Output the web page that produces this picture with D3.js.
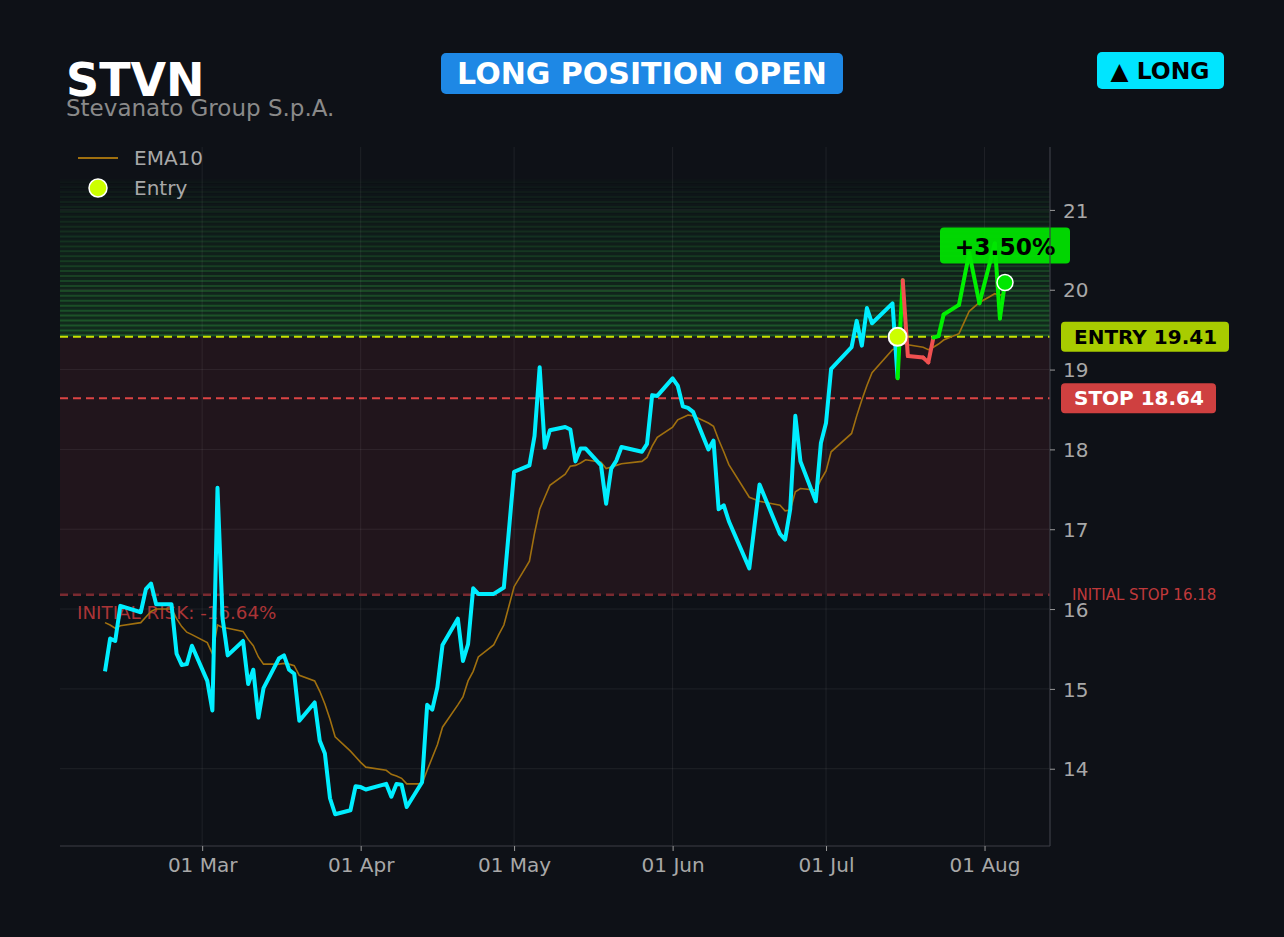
<!DOCTYPE html>
<meta charset="utf-8">
<style>
body { margin: 0; background: #0e1117; }
text { font-family: "DejaVu Sans", sans-serif; }
.axis .domain { display: none; }
.axis text { fill: #a8a8a8; font-size: 20px; }
.axis line { stroke: #9a9a9a; }
</style>
<svg width="1284" height="937"></svg>
<script src="https://cdn.jsdelivr.net/npm/d3@7/dist/d3.min.js"></script>
<script>

// daily closes (2026 trading days)
var dates = [
  "2026-02-10","2026-02-11","2026-02-12","2026-02-13","2026-02-17","2026-02-18","2026-02-19","2026-02-20",
  "2026-02-23","2026-02-24","2026-02-25","2026-02-26","2026-02-27",
  "2026-03-02","2026-03-03","2026-03-04","2026-03-05","2026-03-06",
  "2026-03-09","2026-03-10","2026-03-11","2026-03-12","2026-03-13",
  "2026-03-16","2026-03-17","2026-03-18","2026-03-19","2026-03-20",
  "2026-03-23","2026-03-24","2026-03-25","2026-03-26","2026-03-27",
  "2026-03-30","2026-03-31","2026-04-01","2026-04-02",
  "2026-04-06","2026-04-07","2026-04-08","2026-04-09","2026-04-10",
  "2026-04-13","2026-04-14","2026-04-15","2026-04-16","2026-04-17",
  "2026-04-20","2026-04-21","2026-04-22","2026-04-23","2026-04-24",
  "2026-04-27","2026-04-28","2026-04-29","2026-05-01",
  "2026-05-04","2026-05-05","2026-05-06","2026-05-07","2026-05-08",
  "2026-05-11","2026-05-12","2026-05-13","2026-05-14","2026-05-15",
  "2026-05-18","2026-05-19","2026-05-20","2026-05-21","2026-05-22",
  "2026-05-26","2026-05-27","2026-05-28","2026-05-29",
  "2026-06-01","2026-06-02","2026-06-03","2026-06-04","2026-06-05",
  "2026-06-08","2026-06-09","2026-06-10","2026-06-11","2026-06-12",
  "2026-06-16","2026-06-18",
  "2026-06-22","2026-06-23","2026-06-24","2026-06-25","2026-06-26",
  "2026-06-29","2026-06-30","2026-07-01","2026-07-02",
  "2026-07-06","2026-07-07","2026-07-08","2026-07-09","2026-07-10",
  "2026-07-14","2026-07-15","2026-07-16","2026-07-17",
  "2026-07-20","2026-07-21","2026-07-22","2026-07-23","2026-07-24",
  "2026-07-27","2026-07-29","2026-07-31",
  "2026-08-03","2026-08-04","2026-08-05"
];

var closes = [
  15.22,15.63,15.60,16.04,15.96,16.25,16.32,16.06,
  16.06,15.44,15.30,15.31,15.54,
  15.10,14.73,17.52,15.88,15.42,
  15.60,15.06,15.24,14.64,15.01,
  15.38,15.42,15.24,15.19,14.60,
  14.83,14.35,14.19,13.63,13.43,
  13.48,13.78,13.77,13.74,
  13.81,13.65,13.81,13.80,13.52,
  13.83,14.80,14.74,15.02,15.55,
  15.88,15.35,15.56,16.26,16.19,
  16.19,16.23,16.27,17.72,
  17.80,18.17,19.03,18.02,18.24,
  18.28,18.25,17.85,18.01,18.01,
  17.80,17.32,17.76,17.86,18.03,
  17.97,18.07,18.68,18.67,
  18.89,18.80,18.54,18.52,18.47,
  18.00,18.11,17.25,17.30,17.10,
  16.51,17.56,
  16.94,16.87,17.25,18.42,17.85,
  17.35,18.08,18.33,19.01,
  19.28,19.61,19.30,19.77,19.58,
  19.83,18.89,20.12,19.17,
  19.15,19.09,19.40,19.42,19.69,
  19.81,20.46,19.83,
  20.58,19.64,20.09
];

var ema10 = [
  15.83,15.80,15.76,15.79,15.83,15.90,15.97,16.00,
  16.00,15.88,15.78,15.71,15.68,
  15.58,15.44,15.80,15.77,15.76,
  15.72,15.62,15.54,15.40,15.31,
  15.31,15.32,15.31,15.29,15.17,
  15.10,14.97,14.81,14.62,14.40,
  14.22,14.15,14.08,14.02,
  13.98,13.93,13.91,13.88,13.81,
  13.81,13.98,14.14,14.30,14.52,
  14.80,14.90,15.10,15.22,15.40,
  15.55,15.68,15.80,16.28,
  16.60,16.95,17.25,17.40,17.55,
  17.69,17.79,17.80,17.83,17.87,
  17.84,17.76,17.78,17.80,17.82,
  17.85,17.90,18.04,18.15,
  18.28,18.37,18.40,18.43,18.42,
  18.33,18.29,18.12,17.97,17.81,
  17.40,17.35,
  17.30,17.23,17.24,17.47,17.51,
  17.49,17.62,17.73,17.97,
  18.20,18.42,18.62,18.80,18.96,
  19.25,19.27,19.33,19.31,
  19.28,19.25,19.28,19.32,19.37,
  19.45,19.73,19.84,
  19.95,19.93,19.96
];

var ticker = "STVN",
    company = "Stevanato Group S.p.A.",
    entryDate = "2026-07-15",
    entryPrice = 19.41,
    stopPrice = 18.64,
    initialStop = 16.18,
    zoneTop = 21.39;   // top of the green profit zone

var parse = d3.utcParse("%Y-%m-%d");
var data = dates.map(function(d, i) {
  return {date: parse(d), close: closes[i], ema: ema10[i]};
});
var entryIdx = dates.indexOf(entryDate);

var svg = d3.select("svg"),
    margin = {top: 147, right: 234, bottom: 91, left: 60},
    width = +svg.attr("width") - margin.left - margin.right,
    height = +svg.attr("height") - margin.top - margin.bottom;

svg.append("rect").attr("width", 1284).attr("height", 937).attr("fill", "#0e1117");

var g = svg.append("g").attr("transform", "translate(" + margin.left + "," + margin.top + ")");

// matplotlib-like 5% margins
var xExt = d3.extent(data, function(d) { return d.date; }),
    xPad = (xExt[1] - xExt[0]) * 0.05;
var x = d3.scaleUtc()
    .domain([new Date(+xExt[0] - xPad), new Date(+xExt[1] + xPad)])
    .range([0, width]);

var yLo = d3.min(closes), yHi = zoneTop, yPad = (yHi - yLo) * 0.05;
var y = d3.scaleLinear()
    .domain([yLo - yPad, yHi + yPad])
    .range([height, 0]);

// risk zone between entry and initial stop
g.append("rect")
    .attr("x", 0).attr("width", width)
    .attr("y", y(entryPrice)).attr("height", y(initialStop) - y(entryPrice))
    .attr("fill", "#21151c");

// green profit zone, stacked fading stripes
var nBands = 32, bandStep = (zoneTop - entryPrice) / nBands;
var bands = d3.range(nBands).map(function(i) {
  var f = 1 - i / nBands;
  return {lo: entryPrice + i * bandStep, hi: entryPrice + (i + 1) * bandStep, a: f};
});
var bandG = g.append("g");
bandG.selectAll("rect").data(bands).enter().append("rect")
    .attr("x", 0).attr("width", width)
    .attr("y", function(d) { return y(d.hi); })
    .attr("height", function(d) { return y(d.lo) - y(d.hi); })
    .attr("fill", "rgb(40,160,60)")
    .attr("fill-opacity", function(d) { return 0.18 * d.a + 0.01; });
bandG.selectAll("line").data(bands).enter().append("line")
    .attr("x1", 0).attr("x2", width)
    .attr("y1", function(d) { return y(d.lo) - 1.5; })
    .attr("y2", function(d) { return y(d.lo) - 1.5; })
    .attr("stroke", "rgb(50,170,65)")
    .attr("stroke-width", 2)
    .attr("stroke-opacity", function(d) { return 0.34 * d.a + 0.02; });

// grid
var yTicks = d3.range(14, 22);
g.append("g").selectAll("line").data(yTicks).enter().append("line")
    .attr("x1", 0).attr("x2", width)
    .attr("y1", function(d) { return y(d); }).attr("y2", function(d) { return y(d); })
    .attr("stroke", "#ffffff").attr("stroke-opacity", 0.07);
var xTicks = x.ticks(d3.utcMonth.every(1));
g.append("g").selectAll("line").data(xTicks).enter().append("line")
    .attr("y1", 0).attr("y2", height)
    .attr("x1", function(d) { return x(d); }).attr("x2", function(d) { return x(d); })
    .attr("stroke", "#ffffff").attr("stroke-opacity", 0.07);

// level lines
function level(v, color, w) {
  g.append("line")
      .attr("x1", 0).attr("x2", width)
      .attr("y1", y(v)).attr("y2", y(v))
      .attr("stroke", color).attr("stroke-width", w)
      .attr("stroke-dasharray", "8,5");
}
level(initialStop, "#7a2a30", 2.5);
level(stopPrice, "#dc4444", 2);
level(entryPrice, "#c8e000", 2);

var riskPct = (initialStop - entryPrice) / entryPrice * 100;
g.append("text")
    .attr("x", 17).attr("y", y(initialStop) + 24)
    .attr("fill", "#c0393b").attr("fill-opacity", 0.9)
    .attr("font-size", 18.3)
    .text("INITIAL RISK: " + riskPct.toFixed(2) + "%");

// EMA10
var line = d3.line()
    .x(function(d) { return x(d.date); })
    .y(function(d) { return y(d.v); });

g.append("path")
    .datum(data.map(function(d) { return {date: d.date, v: d.ema}; }))
    .attr("fill", "none")
    .attr("stroke", "#a0700f")
    .attr("stroke-width", 1.6)
    .attr("d", line);

// price before entry
g.append("path")
    .datum(data.slice(0, entryIdx + 1).map(function(d) { return {date: d.date, v: d.close}; }))
    .attr("fill", "none")
    .attr("stroke", "#00eeff")
    .attr("stroke-width", 4)
    .attr("stroke-linejoin", "round")
    .attr("d", line);

// price after entry, coloured by side of entry
var segs = d3.range(entryIdx + 1, data.length).map(function(i) {
  return [data[i - 1], data[i]];
});
g.append("g").selectAll("path").data(segs).enter().append("path")
    .attr("fill", "none")
    .attr("stroke-width", 4)
    .attr("stroke-linecap", "round")
    .attr("stroke", function(s) { return s[1].close >= entryPrice ? "#00f000" : "#f05050"; })
    .attr("d", function(s) { return line(s.map(function(d) { return {date: d.date, v: d.close}; })); });

// entry marker
g.append("circle")
    .attr("cx", x(parse(entryDate))).attr("cy", y(entryPrice)).attr("r", 9)
    .attr("fill", "#ccff00").attr("stroke", "#ffffff").attr("stroke-width", 2);

// current price marker + P/L label
var last = data[data.length - 1],
    pl = (last.close - entryPrice) / entryPrice * 100,
    lx = x(last.date), ly = y(last.close);
var plG = g.append("g");
plG.append("rect")
    .attr("x", lx - 65).attr("y", ly - 55).attr("width", 130).attr("height", 36).attr("rx", 4)
    .attr("fill", "#00e600").attr("fill-opacity", 0.92);
plG.append("text")
    .attr("x", lx).attr("y", ly - 28)
    .attr("text-anchor", "middle").attr("font-size", 23.4).attr("font-weight", "bold")
    .attr("fill", "#000")
    .text((pl >= 0 ? "+" : "") + pl.toFixed(2) + "%");
g.append("circle")
    .attr("cx", lx).attr("cy", ly).attr("r", 8)
    .attr("fill", "#00e600").attr("stroke", "#ffffff").attr("stroke-width", 1.5);

// spines
g.append("line").attr("x1", width).attr("x2", width).attr("y1", 0).attr("y2", height)
    .attr("stroke", "#3c3f46").attr("stroke-width", 1.2);
g.append("line").attr("x1", 0).attr("x2", width).attr("y1", height).attr("y2", height)
    .attr("stroke", "#3c3f46").attr("stroke-width", 1.2);

// axes
g.append("g")
    .attr("class", "axis")
    .attr("transform", "translate(0," + height + ")")
    .call(d3.axisBottom(x).tickValues(xTicks).tickFormat(d3.utcFormat("%d %b")).tickSize(5).tickPadding(7));

g.append("g")
    .attr("class", "axis")
    .attr("transform", "translate(" + width + ",0)")
    .call(d3.axisRight(y).tickValues(yTicks).tickFormat(d3.format("d")).tickSize(5).tickPadding(8))
    .selectAll("text").attr("dy", "0.36em");

// right-side level tags
function tag(v, label, bg, fg, w) {
  var t = svg.append("g").attr("transform", "translate(" + (margin.left + width + 11) + "," + (margin.top + y(v)) + ")");
  t.append("rect").attr("x", 0).attr("y", -15).attr("width", w).attr("height", 30).attr("rx", 4).attr("fill", bg);
  t.append("text").attr("x", 13).attr("y", 7).attr("font-size", 20).attr("font-weight", "bold")
      .attr("fill", fg).text(label);
}
tag(entryPrice, "ENTRY " + entryPrice.toFixed(2), "#a8cc00", "#000", 168);
tag(stopPrice, "STOP " + stopPrice.toFixed(2), "#cf4040", "#fff", 155);
svg.append("text")
    .attr("x", margin.left + width + 22).attr("y", margin.top + y(initialStop) + 5)
    .attr("fill", "#c0393b").attr("font-size", 15)
    .text("INITIAL STOP " + initialStop.toFixed(2));

// legend
var legend = svg.append("g").attr("transform", "translate(78,158)");
legend.append("line").attr("x1", 0).attr("x2", 40).attr("y1", 0).attr("y2", 0)
    .attr("stroke", "#a0700f").attr("stroke-width", 2);
legend.append("text").attr("x", 56).attr("y", 7).attr("font-size", 20).attr("fill", "#a8a8a8").text("EMA10");
legend.append("circle").attr("cx", 20).attr("cy", 30).attr("r", 9)
    .attr("fill", "#ccff00").attr("stroke", "#ffffff").attr("stroke-width", 1.5);
legend.append("text").attr("x", 56).attr("y", 37).attr("font-size", 20).attr("fill", "#a8a8a8").text("Entry");

// header
svg.append("text").attr("x", 66).attr("y", 96)
    .attr("font-size", 46).attr("font-weight", "bold").attr("fill", "#ffffff").text(ticker);
svg.append("text").attr("x", 66).attr("y", 116)
    .attr("font-size", 23).attr("fill", "#8a8a8a").text(company);

var statusBox = svg.append("g");
statusBox.append("rect").attr("x", 441).attr("y", 53).attr("width", 402).attr("height", 41).attr("rx", 5).attr("fill", "#1e88e5");
statusBox.append("text").attr("x", 642).attr("y", 84).attr("text-anchor", "middle")
    .attr("font-size", 30).attr("font-weight", "bold").attr("fill", "#ffffff").text("LONG POSITION OPEN");

var sideBox = svg.append("g");
sideBox.append("rect").attr("x", 1097).attr("y", 52).attr("width", 127).attr("height", 37).attr("rx", 5).attr("fill", "#00e5ff");
sideBox.append("text").attr("x", 1160).attr("y", 79).attr("text-anchor", "middle")
    .attr("font-size", 23.4).attr("font-weight", "bold").attr("fill", "#000").text("\u25B2 LONG");

</script>
